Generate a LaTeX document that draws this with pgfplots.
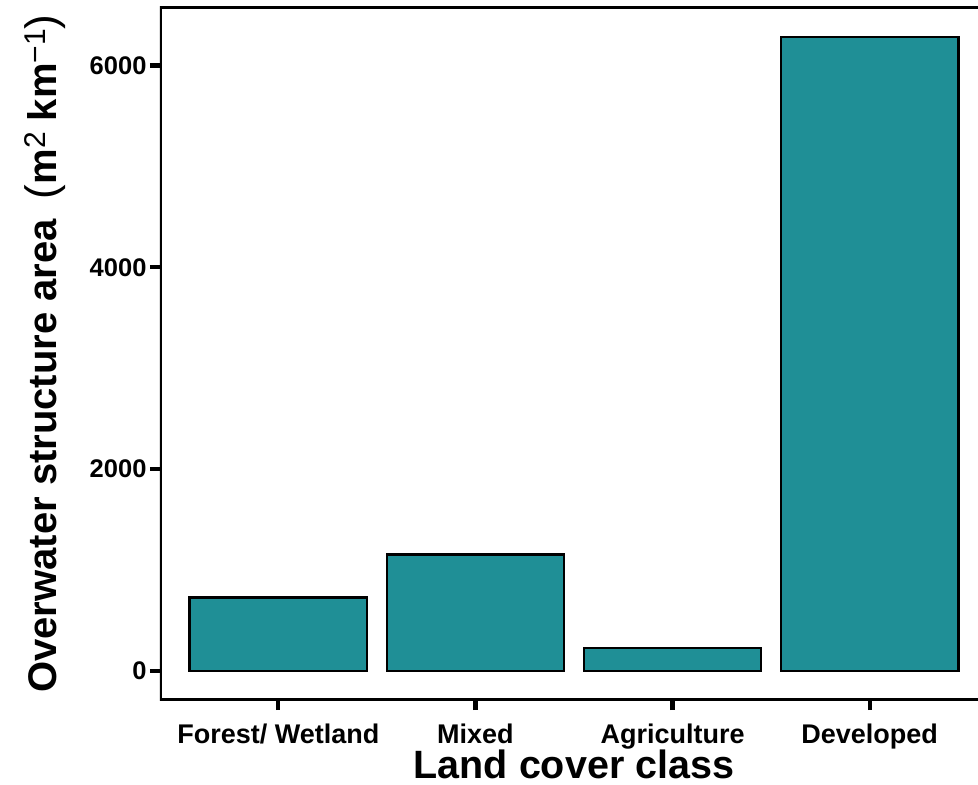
\documentclass[border=0pt]{standalone}
\usepackage{fontspec}
\setmainfont{Liberation Sans}
\usepackage{pgfplots}
\pgfplotsset{compat=1.18}
\definecolor{barc}{RGB}{31,143,150}
\begin{document}
\begin{tikzpicture}
\begin{axis}[
  width=828pt, height=693pt, scale only axis,
  xmin=-0.6, xmax=3.6, ymin=-290, ymax=6580,
  axis line style={draw=none},
  xtick={0,1,2,3},
  xticklabels={Forest/ Wetland, Mixed, Agriculture, Developed},
  ytick={0,2000,4000,6000},
  tick align=outside, xtick pos=left, ytick pos=left,
  major tick length=10pt, tick style={line width=4.3pt, black},
  /pgf/number format/assume math mode=true,
  scaled y ticks=false,
  yticklabel={\pgfmathprintnumber[1000 sep={}]{\tick}},
  x tick label style={font=\fontsize{27}{27}\selectfont\bfseries, anchor=base, yshift=-33pt},
  y tick label style={font=\fontsize{25.5}{25.5}\selectfont\bfseries, anchor=east},
  xlabel={Land cover class},
  every axis x label/.style={at={(axis description cs:0.5,0)}, anchor=base, yshift=-78pt, text depth=0pt, font=\fontsize{39.5}{39.5}\selectfont\bfseries},
  ylabel={Overwater structure area\enspace{\mdseries\fontsize{44}{44}\selectfont(}m\raisebox{0.55ex}{\mdseries\fontsize{30}{30}\selectfont 2} km\raisebox{0.55ex}{\mdseries\fontsize{30}{30}\selectfont −1}{\mdseries\fontsize{44}{44}\selectfont)}},
  every axis y label/.style={at={(axis description cs:0,0.5)}, xshift=-115pt, rotate=90, anchor=center, font=\fontsize{40}{40}\selectfont\bfseries},
]
\addplot[ybar, bar width=0.9, fill=barc, draw=black, line width=2.2pt] coordinates {(0,727) (1,1153) (2,228) (3,6280)};
\draw[line width=4.3pt, line cap=rect] (rel axis cs:1,1) -- (rel axis cs:0,1) -- (rel axis cs:0,0) -- (rel axis cs:1,0);
\coordinate (ll) at (rel axis cs:0,0);
\coordinate (ur) at (rel axis cs:1,1);
\end{axis}
\pgfresetboundingbox
\path[use as bounding box] ([shift={(-160pt,-84pt)}]ll) rectangle ([shift={(-10pt,7pt)}]ur);
\end{tikzpicture}
\end{document}
